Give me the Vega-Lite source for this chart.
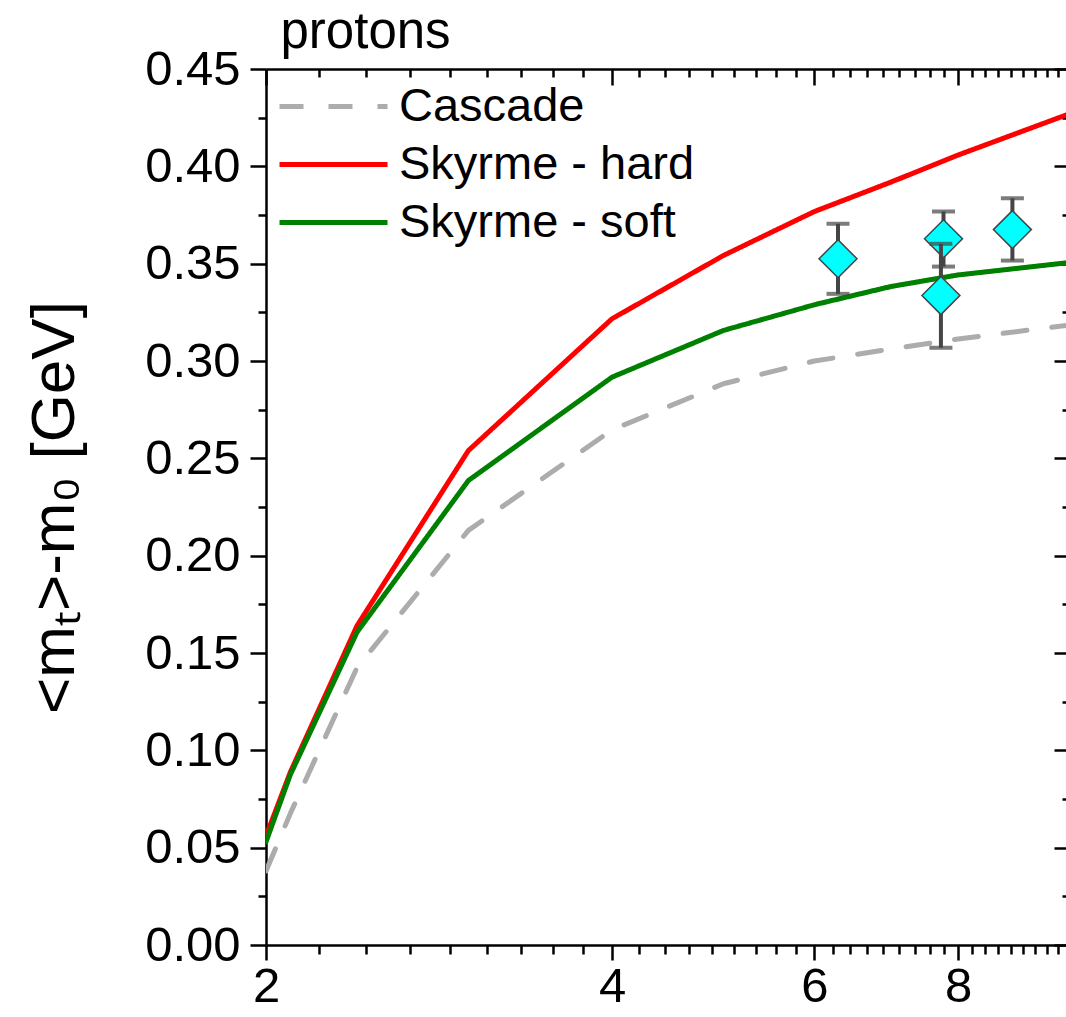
{
  "$schema": "https://vega.github.io/schema/vega-lite/v6.json",
  "width": 800,
  "height": 876,
  "autosize": {"type": "none"},
  "padding": {"left": 266, "top": 69, "right": 0, "bottom": 72},
  "config": {
    "font": "Liberation Sans",
    "view": {"stroke": null},
    "axis": {"grid": false, "domainColor": "black", "tickColor": "black", "domainWidth": 2.5, "tickWidth": 2.5, "labelColor": "black", "titleColor": "black"}
  },
  "datasets": {
    "curves": [
      {"model": "Cascade", "x": 2, "y": 0.038},
      {"model": "Cascade", "x": 2.1, "y": 0.0676},
      {"model": "Cascade", "x": 2.4, "y": 0.1425},
      {"model": "Cascade", "x": 3, "y": 0.213},
      {"model": "Cascade", "x": 4, "y": 0.2646},
      {"model": "Cascade", "x": 5, "y": 0.2883},
      {"model": "Cascade", "x": 6, "y": 0.300},
      {"model": "Cascade", "x": 7, "y": 0.3062},
      {"model": "Cascade", "x": 8, "y": 0.3113},
      {"model": "Cascade", "x": 10, "y": 0.3185},
      {"model": "Skyrme - hard", "x": 2, "y": 0.056},
      {"model": "Skyrme - hard", "x": 2.1, "y": 0.0888},
      {"model": "Skyrme - hard", "x": 2.4, "y": 0.164},
      {"model": "Skyrme - hard", "x": 3, "y": 0.254},
      {"model": "Skyrme - hard", "x": 4, "y": 0.3217},
      {"model": "Skyrme - hard", "x": 5, "y": 0.3542},
      {"model": "Skyrme - hard", "x": 6, "y": 0.3768},
      {"model": "Skyrme - hard", "x": 7, "y": 0.392},
      {"model": "Skyrme - hard", "x": 8, "y": 0.4058},
      {"model": "Skyrme - hard", "x": 10, "y": 0.427},
      {"model": "Skyrme - soft", "x": 2, "y": 0.053},
      {"model": "Skyrme - soft", "x": 2.1, "y": 0.0875},
      {"model": "Skyrme - soft", "x": 2.4, "y": 0.1607},
      {"model": "Skyrme - soft", "x": 3, "y": 0.2386},
      {"model": "Skyrme - soft", "x": 4, "y": 0.2917},
      {"model": "Skyrme - soft", "x": 5, "y": 0.3157},
      {"model": "Skyrme - soft", "x": 6, "y": 0.3289},
      {"model": "Skyrme - soft", "x": 7, "y": 0.3383},
      {"model": "Skyrme - soft", "x": 8, "y": 0.3442},
      {"model": "Skyrme - soft", "x": 10, "y": 0.3506}
    ],
    "points": [
      {"x": 6.29, "y": 0.3525, "lo": 0.3345, "hi": 0.3705, "set": "a"},
      {"x": 7.77, "y": 0.3628, "lo": 0.3485, "hi": 0.3768, "set": "a"},
      {"x": 8.92, "y": 0.3675, "lo": 0.3516, "hi": 0.3836, "set": "a"},
      {"x": 7.73, "y": 0.3336, "lo": 0.3068, "hi": 0.3602, "set": "b"}
    ]
  },
  "resolve": {"axis": {"x": "independent", "y": "independent"}},
  "layer": [
    {
      "data": {"name": "curves"},
      "mark": {"type": "line", "strokeWidth": 5, "strokeCap": "round", "strokeJoin": "round", "clip": true},
      "encoding": {
        "x": {"field": "x", "type": "quantitative", "scale": {"type": "log", "domain": [2, 9.931], "nice": false},
          "axis": {"orient": "bottom", "values": [2, 4, 6, 8], "format": "d", "tickSize": 15, "labelFontSize": 49, "labelPadding": 2, "labelFlush": false, "labelOverlap": false, "labelBound": false, "title": null, "domain": true}},
        "y": {"field": "y", "type": "quantitative", "scale": {"domain": [0, 0.45], "nice": false, "zero": false},
          "axis": {"orient": "left", "values": [0, 0.05, 0.1, 0.15, 0.2, 0.25, 0.3, 0.35, 0.4, 0.45], "format": ".2f", "tickSize": 16, "labelFontSize": 49, "labelPadding": 10, "labelFlush": false, "labelOverlap": false, "labelBound": false, "domain": true,
            "title": "<mₜ>-m₀ [GeV]", "titleFontSize": 62, "titleFontWeight": "normal", "titleX": -193, "titleY": 438, "titleAngle": 270, "titleAlign": "center", "titleBaseline": "alphabetic"}},
        "color": {"field": "model", "type": "nominal",
          "scale": {"domain": ["Cascade", "Skyrme - hard", "Skyrme - soft"], "range": ["#acacac", "#ff0000", "#008000"]},
          "legend": {"orient": "none", "legendX": 44, "legendY": 14, "title": null, "padding": 0, "labelFontSize": 47, "labelColor": "black", "labelOffset": 42, "rowPadding": 10, "symbolType": "M-4,0H4", "symbolSize": 729, "symbolStrokeWidth": 5, "labelLimit": 1000}},
        "strokeDash": {"field": "model", "type": "nominal",
          "scale": {"domain": ["Cascade", "Skyrme - hard", "Skyrme - soft"], "range": [[24, 25], [1, 0], [1, 0]]}}
      }
    },
    {
      "data": {"name": "points"},
      "transform": [{"filter": "datum.set == 'a'"}],
      "mark": {"type": "errorbar", "ticks": {"size": 23, "thickness": 4, "color": "#454545"}, "thickness": 4, "color": "#454545"},
      "encoding": {
        "x": {"field": "x", "type": "quantitative", "scale": {"type": "log", "domain": [2, 9.931], "nice": false},
          "axis": {"orient": "bottom", "values": [2.2222, 2.4444, 2.6667, 2.8889, 3.1111, 3.3333, 3.5556, 3.7778, 4.2222, 4.4444, 4.6667, 4.8889, 5.1111, 5.3333, 5.5556, 5.7778, 6.2222, 6.4444, 6.6667, 6.8889, 7.1111, 7.3333, 7.5556, 7.7778, 8.2222, 8.4444, 8.6667, 8.8889, 9.1111, 9.3333, 9.5556, 9.7778], "tickSize": 9, "labels": false, "domain": false, "title": null}},
        "y": {"field": "lo", "type": "quantitative", "scale": {"domain": [0, 0.45], "nice": false, "zero": false},
          "axis": {"orient": "left", "values": [0.025, 0.075, 0.125, 0.175, 0.225, 0.275, 0.325, 0.375, 0.425], "tickSize": 8, "labels": false, "domain": false, "title": null}},
        "y2": {"field": "hi"}
      }
    },
    {
      "data": {"name": "points"},
      "transform": [{"filter": "datum.set == 'a'"}],
      "mark": {"type": "point", "shape": "diamond", "filled": true, "size": 1444, "fill": "#00ffff", "stroke": "#444444", "strokeWidth": 1.5, "opacity": 1},
      "encoding": {
        "x": {"field": "x", "type": "quantitative", "scale": {"type": "log", "domain": [2, 9.931], "nice": false},
          "axis": {"orient": "top", "values": [2, 4, 6, 8], "tickSize": -16, "labels": false, "domain": true,
            "title": "protons", "titleFontSize": 51, "titleFontWeight": "normal", "titleX": 14, "titleY": -22, "titleAlign": "left", "titleBaseline": "alphabetic", "titleAngle": 0}},
        "y": {"field": "y", "type": "quantitative", "scale": {"domain": [0, 0.45], "nice": false, "zero": false},
          "axis": {"orient": "right", "values": [0, 0.05, 0.1, 0.15, 0.2, 0.25, 0.3, 0.35, 0.4, 0.45], "tickSize": -12, "labels": false, "domain": false, "title": null}}
      }
    },
    {
      "data": {"name": "points"},
      "transform": [{"filter": "datum.set == 'b'"}],
      "mark": {"type": "errorbar", "ticks": {"size": 23, "thickness": 4, "color": "#454545"}, "thickness": 4, "color": "#454545"},
      "encoding": {
        "x": {"field": "x", "type": "quantitative", "scale": {"type": "log", "domain": [2, 9.931], "nice": false},
          "axis": {"orient": "top", "values": [2.2222, 2.4444, 2.6667, 2.8889, 3.1111, 3.3333, 3.5556, 3.7778, 4.2222, 4.4444, 4.6667, 4.8889, 5.1111, 5.3333, 5.5556, 5.7778, 6.2222, 6.4444, 6.6667, 6.8889, 7.1111, 7.3333, 7.5556, 7.7778, 8.2222, 8.4444, 8.6667, 8.8889, 9.1111, 9.3333, 9.5556, 9.7778], "tickSize": -8, "labels": false, "domain": false, "title": null}},
        "y": {"field": "lo", "type": "quantitative", "scale": {"domain": [0, 0.45], "nice": false, "zero": false},
          "axis": {"orient": "right", "values": [0.025, 0.075, 0.125, 0.175, 0.225, 0.275, 0.325, 0.375, 0.425], "tickSize": -4, "labels": false, "domain": false, "title": null}},
        "y2": {"field": "hi"}
      }
    },
    {
      "data": {"name": "points"},
      "transform": [{"filter": "datum.set == 'b'"}],
      "mark": {"type": "point", "shape": "diamond", "filled": true, "size": 1444, "fill": "#00ffff", "stroke": "#444444", "strokeWidth": 1.5, "opacity": 1},
      "encoding": {
        "x": {"field": "x", "type": "quantitative", "scale": {"type": "log", "domain": [2, 9.931], "nice": false}, "axis": null},
        "y": {"field": "y", "type": "quantitative", "scale": {"domain": [0, 0.45], "nice": false, "zero": false}, "axis": null}
      }
    }
  ]
}
